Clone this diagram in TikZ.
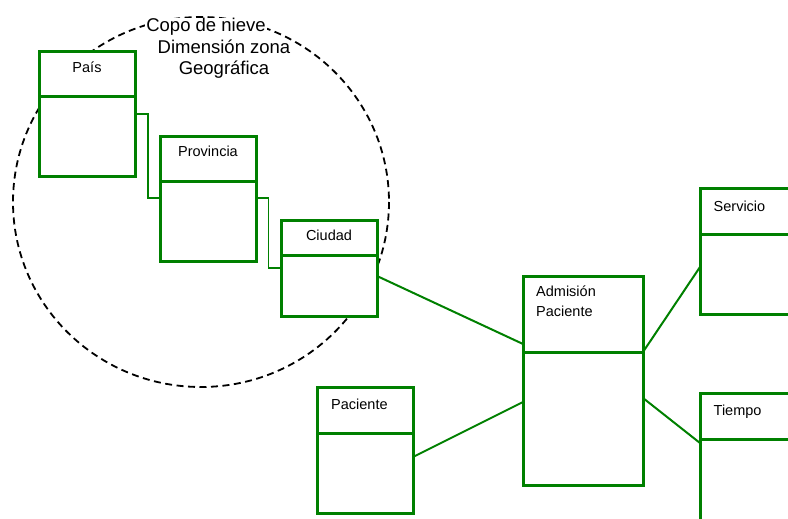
\documentclass[tikz,border=0pt]{standalone}
\usepackage{fontspec}
\setmainfont{Liberation Sans}
\usepackage{tikz}
\usetikzlibrary{positioning, calc}
\definecolor{tgreen}{HTML}{008000}

\begin{document}
\begin{tikzpicture}[x=1pt, y=-1pt,
    hdr/.style={draw=tgreen, fill=white, line width=3pt, inner sep=0pt, outer sep=0pt},
    lbl/.style={font=\fontsize{14.5}{17}\selectfont, inner sep=0pt},
    ttl/.style={font=\fontsize{18.5}{21}\selectfont, inner sep=1pt, anchor=base},
    link/.style={draw=tgreen, line width=2pt},
    thin/.style={draw=tgreen, line width=1.3pt}]
  \useasboundingbox (0,0) rectangle (788,519);
  \clip (0,0) rectangle (788,519);

  % Snowflake boundary
  \draw[dash pattern=on 7pt off 4.5pt, line width=1.8pt] (201,202) ellipse [x radius=188, y radius=185];
  \node[ttl, fill=white] (copo) at (206,32) {Copo de nieve};
  \node[ttl] (dimzona) at (224,53.5) {Dimensión zona};
  \node[ttl] (geo) at (224,74.5) {Geográfica};

  % Tables
  \node[hdr, anchor=north west, minimum width=96pt, minimum height=45pt] (pais) at (39,52) {};
  \node[hdr, anchor=north, minimum width=96pt, minimum height=79pt] (paisB) at (pais.south) {};
  \node[hdr, anchor=north west, minimum width=96pt, minimum height=45pt] (prov) at (160,136) {};
  \node[hdr, anchor=north, minimum width=96pt, minimum height=80pt] (provB) at (prov.south) {};
  \node[hdr, anchor=north west, minimum width=96pt, minimum height=35pt] (ciud) at (281,220) {};
  \node[hdr, anchor=north, minimum width=96pt, minimum height=61pt] (ciudB) at (ciud.south) {};
  \node[hdr, anchor=north west, minimum width=120pt, minimum height=76pt] (adm) at (523,276) {};
  \node[hdr, anchor=north, minimum width=120pt, minimum height=133pt] (admB) at (adm.south) {};
  \node[hdr, anchor=north west, minimum width=98pt, minimum height=46pt] (serv) at (700,188) {};
  \node[hdr, anchor=north, minimum width=98pt, minimum height=80pt] (servB) at (serv.south) {};
  \node[hdr, anchor=north west, minimum width=98pt, minimum height=46pt] (tiem) at (700,393) {};
  \node[hdr, anchor=north, minimum width=98pt, minimum height=100pt] (tiemB) at (tiem.south) {};
  \node[hdr, anchor=north west, minimum width=96pt, minimum height=46pt] (pac) at (317,387) {};
  \node[hdr, anchor=north, minimum width=96pt, minimum height=80pt] (pacB) at (pac.south) {};

  % Labels
  \node[lbl, anchor=base] (paisT) at ($(pais.north)+(0,21)$) {País};
  \node[lbl, anchor=base] (provT) at ($(prov.north)+(0,21)$) {Provincia};
  \node[lbl, anchor=base] (ciudT) at ($(ciud.north)+(0,20)$) {Ciudad};
  \node[lbl, anchor=base west] (admT) at ($(adm.north west)+(13,20)$) {Admisión};
  \node[lbl, anchor=base west] (admT2) at ($(adm.north west)+(13,40)$) {Paciente};
  \node[lbl, anchor=base west] (servT) at ($(serv.north west)+(13.5,23)$) {Servicio};
  \node[lbl, anchor=base west] (tiemT) at ($(tiem.north west)+(13.5,22)$) {Tiempo};
  \node[lbl, anchor=base west] (pacT) at ($(pac.north west)+(14,22)$) {Paciente};

  % Connectors
  \draw[thin] ($(paisB.north east)+(0,17)$) -- ++(13,0) |- ($(provB.north west)+(0,17)$);
  \draw[thin] ($(provB.north east)+(0,17)$) -- ++(12.5,0) |- ($(ciudB.north west)+(0,13)$);
  \draw[link] ($(ciudB.north east)+(0,21)$) -- ($(adm.south west)+(0,-8)$);
  \draw[link] ($(pacB.north east)+(0,24)$) -- ($(admB.north west)+(0,50)$);
  \draw[link] (admB.north east) -- ($(servB.north west)+(0,33)$);
  \draw[link] ($(admB.north east)+(0,46)$) -- ($(tiemB.north west)+(0,4)$);
\end{tikzpicture}
\end{document}
